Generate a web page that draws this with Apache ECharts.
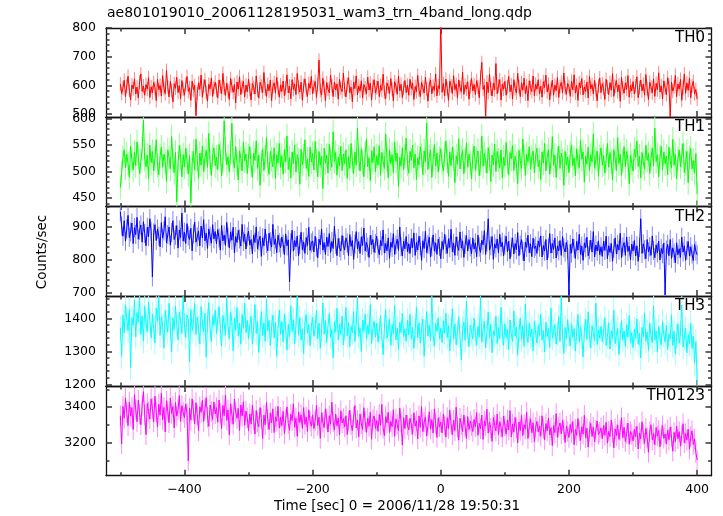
<!DOCTYPE html>
<html>
<head>
<meta charset="utf-8">
<script src="https://cdn.jsdelivr.net/npm/echarts@6.0.0/dist/echarts.min.js"></script>
<style>
html,body{margin:0;padding:0;background:#fff;}
#chart{width:723px;height:516px;}
</style>
</head>
<body>
<div id="chart"></div>
<script>
// ---- data ----
const titleText = 'ae801019010_20061128195031_wam3_trn_4band_long.qdp';
const xTitle = 'Time [sec] 0 = 2006/11/28 19:50:31';
const yTitle = 'Counts/sec';
const T0 = -500, STEP = 2;   // first bin time and bin width (s)
const panelNames = ['TH0', 'TH1', 'TH2', 'TH3', 'TH0123'];
const xTickLabels = [-400, -200, 0, 200, 400];
const xMinorTicks = [-500, -300, -100, 100, 300];
const yTickLabels = [[500, 600, 700, 800], [450, 500, 550, 600], [700, 800, 900], [1200, 1300, 1400], [3200, 3400]];
const errBar = [24, 23, 29, 37, 58];   // typical 1-sigma error per bin

const th0 = [
605,572,590,618,561,597,632,583,549,601,588,623,570,594,556,612,640,579,598,566,603,587,627,558,595,
574,610,592,547,621,585,600,563,634,589,571,652,596,560,614,582,543,606,590,628,575,599,554,617,587,
566,603,631,579,592,548,615,584,600,495,572,609,586,636,559,597,620,575,545,604,588,626,562,593,611,
583,557,619,596,571,642,590,565,608,580,551,624,599,576,603,539,612,587,630,568,595,614,560,601,578,
622,586,549,607,593,570,633,584,556,611,597,575,645,588,562,604,581,619,547,596,609,573,628,590,559,
602,579,615,564,591,637,574,598,553,620,586,605,568,642,594,577,611,548,599,623,583,562,607,590,631,
571,596,614,558,603,688,582,566,625,593,547,610,587,574,636,599,561,612,584,605,552,621,590,578,643,
586,560,604,627,575,594,543,611,589,633,567,598,580,616,556,603,591,571,629,584,608,549,597,620,573,
592,615,561,600,583,639,576,554,609,595,572,624,587,546,613,598,569,632,581,604,558,590,617,575,601,
566,621,589,608,551,596,578,635,584,561,610,593,574,628,587,545,602,619,571,597,583,640,563,599,588,
830,576,607,563,622,589,548,615,598,572,634,585,604,556,619,592,578,646,569,601,587,613,552,595,624,
581,603,568,617,594,557,629,680,586,600,492,612,575,639,590,563,608,584,676,571,598,620,549,605,587,
614,566,595,631,578,602,553,620,589,574,642,596,561,609,583,625,570,599,547,616,592,579,633,564,604,
587,620,571,598,559,613,593,636,577,604,550,589,618,566,601,582,627,558,596,611,574,643,590,569,607,
596,562,615,584,637,573,600,548,609,591,624,567,595,579,612,556,631,588,603,570,618,585,546,598,626,
575,606,589,551,621,594,568,610,583,641,562,597,617,578,602,545,628,591,573,609,586,634,559,600,581,
613,570,598,630,557,592,619,581,604,566,638,588,551,611,595,574,623,562,607,585,644,577,599,553,616,
590,568,627,601,490,612,580,596,635,561,605,587,621,548,593,640,572,609,583,626,557,598,614,571,586,
552];
const th1 = [
470,498,526,541,507,533,515,489,548,522,503,537,511,556,528,496,519,543,597,524,509,531,486,550,517,
538,501,525,560,512,494,529,546,508,533,519,482,541,526,505,566,521,498,536,443,514,549,527,490,532,
509,544,520,495,530,441,516,538,503,561,524,487,535,512,548,499,526,540,508,572,518,493,531,545,511,
527,504,551,534,492,519,596,542,513,528,499,536,591,522,507,547,515,484,539,525,501,556,520,533,496,
529,547,512,489,535,521,558,506,531,474,518,543,502,527,564,514,495,538,523,509,545,487,532,516,553,
508,530,495,541,519,567,504,526,488,537,515,550,499,532,521,476,542,513,529,560,506,523,491,546,518,
534,503,557,521,490,538,512,529,468,544,516,531,497,552,524,508,575,519,536,493,527,511,548,502,533,
515,541,487,528,506,553,520,496,537,512,582,525,501,543,518,490,534,561,509,526,483,539,517,547,500,
530,512,549,493,536,520,506,571,524,488,541,515,532,498,556,519,535,472,527,510,545,503,529,563,514,
497,538,521,550,507,533,485,526,512,547,530,494,539,518,592,504,528,541,489,522,551,510,535,499,525,
543,516,501,532,558,520,491,537,511,546,524,479,530,514,562,505,527,540,496,521,554,508,533,517,486,
529,548,503,523,539,492,516,567,510,534,520,497,545,526,481,531,513,552,500,538,522,507,541,488,527,
511,555,518,494,536,524,549,502,529,515,477,540,521,506,561,527,493,533,518,547,505,526,539,498,530,
544,509,522,485,537,516,553,501,528,541,495,519,566,512,531,489,525,548,506,535,520,474,538,513,527,
498,534,550,511,526,492,543,519,507,559,523,537,480,529,514,546,502,532,518,571,506,524,539,491,528,
545,512,530,497,523,553,508,536,519,484,541,526,502,564,515,533,493,520,547,509,538,522,477,531,516,
501,542,527,558,510,529,488,536,518,505,550,521,534,496,525,544,511,582,519,532,490,527,548,503,537,
515,529,494,546,520,507,561,512,533,486,524,541,509,530,553,498,517,538,479,526,544,505,521,497,534,
458];
const th2 = [
945,902,871,918,856,893,934,867,884,911,849,897,876,928,862,889,905,853,915,879,842,898,870,924,886,
748,881,906,858,893,871,839,912,865,887,930,851,876,899,844,882,918,861,874,903,835,890,867,941,856,
883,849,909,872,861,895,827,878,914,853,869,887,842,902,866,921,857,880,834,893,871,850,906,863,885,
848,891,866,829,904,857,875,843,913,868,836,884,859,898,821,870,852,889,863,841,907,855,878,832,869,
886,844,861,818,875,852,899,833,857,871,810,866,842,893,849,827,880,855,838,907,846,863,821,874,851,
836,869,847,815,878,842,860,733,851,889,826,858,839,872,811,846,883,830,854,819,867,843,898,828,850,
857,823,871,838,806,862,845,893,829,852,816,868,840,879,822,855,834,901,847,812,864,837,826,873,843,
829,866,851,812,876,840,858,801,847,885,833,855,819,869,843,896,826,852,838,807,874,845,861,822,849,
871,834,815,858,842,890,820,849,827,866,804,853,837,879,816,845,862,828,899,839,811,856,833,870,824,
848,819,864,836,881,813,852,829,871,842,798,857,834,886,821,846,868,808,839,875,826,851,816,862,840,
803,855,831,877,846,819,863,837,892,824,850,813,869,841,828,884,835,857,807,846,873,826,861,839,818,
866,832,851,809,874,838,822,859,845,888,816,853,924,829,842,870,801,848,835,862,820,877,839,853,811,
845,871,824,856,803,838,866,817,849,830,882,812,844,861,826,796,853,837,874,821,848,809,865,834,841,
819,857,838,872,808,843,826,861,799,835,879,820,849,831,866,805,842,827,858,813,870,836,823,852,830,
692,846,820,863,833,804,855,829,877,816,841,798,851,836,868,812,830,859,823,885,808,844,826,857,815,
839,810,856,828,871,803,842,822,849,795,834,866,817,846,829,880,806,838,852,813,869,825,841,800,847,
826,858,811,842,795,837,924,819,848,830,803,861,824,839,813,872,828,806,845,821,856,799,834,818,850,
693,829,846,812,861,804,836,820,790,851,815,833,807,868,823,842,798,828,855,811,839,817,797,846,826,
815];
const th3 = [
1372,1285,1410,1356,1441,1398,1363,1427,1251,1402,1379,1456,1344,1418,1389,1466,1352,1408,1331,1437,1384,1360,1449,1395,1341,
1413,1370,1326,1432,1391,1462,1349,1405,1377,1310,1424,1386,1358,1446,1372,1299,1401,1365,1438,1382,1335,1419,1390,1355,1466,
1380,1342,1411,1396,1268,1427,1363,1389,1445,1351,1404,1373,1322,1436,1385,1360,1416,1283,1392,1448,1367,1330,1408,1379,1425,
1354,1397,1436,1368,1316,1409,1383,1350,1462,1375,1338,1418,1391,1302,1401,1364,1433,1346,1386,1322,1412,1370,1447,1357,1394,
1339,1381,1406,1322,1374,1442,1355,1391,1297,1367,1420,1348,1386,1331,1457,1363,1394,1318,1376,1410,1341,1388,1285,1369,1425,
1352,1390,1329,1414,1371,1304,1382,1345,1438,1360,1396,1323,1377,1466,1349,1402,1334,1368,1293,1389,1412,1356,1381,1317,1374,
1403,1346,1371,1424,1338,1386,1309,1365,1447,1352,1394,1327,1378,1415,1343,1366,1281,1390,1359,1431,1335,1382,1351,1407,1320,
1368,1433,1347,1389,1314,1376,1356,1421,1330,1384,1461,1345,1372,1300,1395,1361,1413,1337,1380,1352,1442,1324,1369,1391,1343,
1386,1329,1361,1408,1348,1290,1374,1427,1340,1365,1397,1318,1382,1353,1440,1335,1371,1306,1389,1357,1416,1345,1368,1331,1394,
1350,1412,1337,1373,1309,1364,1435,1341,1387,1325,1369,1398,1285,1358,1421,1346,1379,1333,1466,1352,1316,1384,1361,1402,1339,
1371,1327,1393,1355,1416,1342,1378,1301,1362,1429,1338,1384,1320,1357,1405,1346,1274,1369,1389,1333,1452,1351,1315,1380,1360,
1337,1401,1352,1319,1376,1343,1466,1328,1365,1392,1311,1358,1419,1340,1383,1296,1361,1348,1407,1324,1372,1339,1434,1355,1318,
1384,1341,1367,1306,1395,1352,1330,1423,1346,1374,1289,1359,1401,1336,1378,1315,1444,1350,1327,1386,1343,1368,1302,1391,1357,
1325,1379,1348,1413,1334,1363,1298,1389,1345,1370,1312,1431,1340,1361,1381,1322,1354,1405,1330,1466,1347,1293,1372,1338,1396,
1351,1316,1384,1342,1369,1301,1358,1412,1329,1375,1344,1283,1363,1397,1336,1420,1348,1310,1378,1355,1333,1446,1321,1366,1340,
1376,1329,1358,1402,1318,1345,1387,1307,1361,1338,1425,1323,1352,1370,1291,1348,1393,1334,1362,1315,1381,1343,1409,1326,1357,
1311,1367,1339,1398,1322,1354,1280,1373,1344,1417,1331,1359,1303,1386,1347,1326,1438,1335,1362,1298,1375,1341,1320,1391,1350,
1328,1379,1306,1352,1337,1411,1318,1361,1292,1345,1384,1325,1356,1440,1313,1342,1370,1296,1351,1323,1386,1309,1347,1265,1330,
1212];
const th0123 = [
3352,3192,3405,3338,3452,3371,3296,3429,3350,3398,3274,3470,3386,3318,3440,3362,3301,3412,3488,3357,3245,3421,3376,3333,3447,
3392,3318,3462,3371,3289,3417,3355,3480,3330,3399,3261,3436,3378,3312,3452,3365,3404,3283,3427,3350,3386,3466,3320,3409,3372,
3341,3418,3365,3097,3395,3327,3447,3381,3306,3426,3358,3267,3403,3371,3439,3319,3388,3455,3344,3292,3413,3376,3331,3430,3362,
3398,3315,3441,3367,3280,3410,3352,3469,3326,3385,3243,3420,3361,3304,3446,3372,3337,3393,3268,3413,3350,3431,3298,3378,3340,
3268,3362,3305,3411,3327,3248,3381,3316,3290,3398,3338,3222,3355,3301,3427,3331,3274,3368,3312,3391,3257,3346,3320,3405,3282,
3343,3296,3377,3251,3329,3402,3308,3270,3361,3325,3419,3287,3339,3236,3372,3314,3357,3280,3398,3303,3345,3263,3385,3321,3292,
3357,3279,3324,3410,3297,3343,3224,3369,3315,3285,3391,3332,3260,3352,3304,3428,3318,3271,3361,3295,3340,3245,3380,3311,3336,
3289,3352,3246,3320,3384,3301,3268,3345,3409,3283,3327,3233,3361,3306,3274,3397,3318,3257,3338,3292,3372,3219,3329,3351,3280,
3325,3264,3359,3298,3416,3282,3240,3347,3311,3372,3257,3320,3290,3386,3236,3334,3303,3268,3395,3315,3186,3341,3279,3356,3300,
3271,3338,3302,3247,3369,3293,3323,3221,3351,3286,3404,3262,3316,3345,3238,3297,3374,3278,3330,3254,3391,3308,3229,3340,3289,
3316,3255,3362,3297,3231,3341,3279,3385,3306,3244,3327,3268,3400,3287,3214,3338,3301,3262,3356,3290,3223,3347,3274,3321,3296,
3262,3331,3289,3370,3241,3309,3278,3356,3218,3323,3295,3388,3254,3315,3281,3207,3342,3299,3266,3361,3245,3318,3286,3233,3350,
3295,3247,3328,3271,3381,3232,3306,3259,3342,3284,3199,3317,3268,3355,3240,3301,3276,3372,3223,3290,3334,3256,3312,3205,3287,
3320,3261,3294,3236,3352,3279,3216,3308,3267,3339,3243,3284,3183,3298,3256,3364,3230,3287,3311,3249,3326,3272,3201,3293,3262,
3229,3303,3257,3319,3188,3275,3241,3336,3266,3212,3290,3248,3354,3227,3281,3174,3263,3309,3235,3287,3204,3271,3322,3246,3259,
3283,3222,3296,3241,3315,3197,3264,3234,3327,3256,3170,3278,3239,3301,3218,3269,3341,3228,3287,3206,3252,3310,3191,3263,3245,
3210,3274,3233,3292,3164,3255,3221,3318,3247,3196,3280,3229,3145,3262,3301,3215,3251,3188,3286,3237,3269,3176,3243,3296,3224,
3249,3193,3271,3216,3288,3232,3151,3258,3206,3294,3222,3262,3180,3240,3307,3199,3251,3214,3276,3163,3234,3267,3189,3221,3143,
3102];
const seriesData = [th0, th1, th2, th3, th0123];

// ---- layout / style ----
const X_MIN = -522.4, X_MAX = 422.4;
const yRange = [[490, 800], [434, 603], [690, 961], [1195, 1468], [3013, 3520]];
const yMinorStep = [20, 10, 20, 20, 100];
const tops = [28, 117, 206.5, 296, 386];
const heights = [89, 89.5, 89.5, 90, 89.7];
const colors = ['#ff0000', '#00ff00', '#0000ff', '#00ffff', '#ff00ff'];
const lightColors = ['#ff8585', '#8cff8c', '#8585ff', '#9cffff', '#ff8cff'];
const FONT = 'DejaVu Sans';
const LEFT = 106, PLOT_W = 605.5;
const MAJOR_LEN = 6, MINOR_LEN = 3.5;
const tickStyle = { color: '#333', width: 1.5 };
const lineC = { color: '#111', width: 1.3 };

function stepVals(lo, hi, step) {
  const out = [];
  for (let v = Math.ceil(lo / step) * step; v <= hi; v += step) out.push(v);
  return out;
}
function fmtX(v) { return v < 0 ? '\u2212' + (-v) : String(v); }

const grids = [], xAxes = [], yAxes = [], series = [];

for (let p = 0; p < 5; p++) {
  grids.push({ left: LEFT, width: PLOT_W, top: tops[p], height: heights[p] });
  const yLo = yRange[p][0], yHi = yRange[p][1];
  const xb = xAxes.length;
  ['bottom', 'top'].forEach(function (pos) {
    // frame edge + major ticks (+ labels on the bottom panel)
    xAxes.push({
      type: 'value', gridIndex: p, min: X_MIN, max: X_MAX, position: pos,
      splitLine: { show: false },
      axisLine: { show: true, onZero: false, lineStyle: lineC },
      axisTick: { show: true, inside: true, length: MAJOR_LEN, customValues: xTickLabels, lineStyle: tickStyle },
      axisLabel: (pos === 'bottom' && p === 4) ? {
        show: true, customValues: xTickLabels, formatter: fmtX, color: '#000',
        fontFamily: FONT, fontSize: 12.5, margin: 8
      } : { show: false }
    });
    // minor ticks
    xAxes.push({
      type: 'value', gridIndex: p, min: X_MIN, max: X_MAX, position: pos,
      splitLine: { show: false },
      axisLine: { show: false, onZero: false },
      axisTick: { show: true, inside: true, length: MINOR_LEN, customValues: xMinorTicks, lineStyle: tickStyle },
      axisLabel: { show: false }
    });
  });
  const yb = yAxes.length;
  const minorY = stepVals(yLo, yHi, yMinorStep[p]).filter(function (v) { return yTickLabels[p].indexOf(v) < 0; });
  ['left', 'right'].forEach(function (pos) {
    yAxes.push({
      type: 'value', gridIndex: p, min: yLo, max: yHi, position: pos,
      splitLine: { show: false },
      axisLine: { show: true, onZero: false, lineStyle: lineC },
      axisTick: { show: true, inside: true, length: MAJOR_LEN, customValues: yTickLabels[p], lineStyle: tickStyle },
      axisLabel: pos === 'left' ? {
        show: true, customValues: yTickLabels[p], formatter: function (v) { return String(v); },
        color: '#000', fontFamily: FONT, fontSize: 12.5, margin: 10
      } : { show: false }
    });
    yAxes.push({
      type: 'value', gridIndex: p, min: yLo, max: yHi, position: pos,
      splitLine: { show: false },
      axisLine: { show: false, onZero: false },
      axisTick: { show: true, inside: true, length: MINOR_LEN, customValues: minorY, lineStyle: tickStyle },
      axisLabel: { show: false }
    });
  });

  const pts = seriesData[p].map(function (v, i) { return [T0 + STEP * i, v]; });
  // light error bars
  series.push({
    type: 'custom', xAxisIndex: xb, yAxisIndex: yb, data: pts, silent: true, z: 2, clip: true,
    renderItem: (function (err, col) {
      return function (params, api) {
        const x = api.value(0), v = api.value(1);
        const a = api.coord([x, v - err]), b = api.coord([x, v + err]);
        return { type: 'line', shape: { x1: a[0], y1: a[1], x2: b[0], y2: b[1] }, style: { stroke: col, lineWidth: 1 } };
      };
    })(errBar[p], lightColors[p])
  });
  series.push({
    type: 'line', xAxisIndex: xb, yAxisIndex: yb, data: pts, showSymbol: false, symbol: 'none',
    clip: true, silent: true, lineStyle: { color: colors[p], width: 1 }, z: 3
  });
}

const graphics = [
  { type: 'text', left: 107, top: 6, style: { text: titleText, fontFamily: FONT, fontSize: 14, fill: '#000' } },
  { type: 'text', x: 42, y: 252, rotation: Math.PI / 2, style: { text: yTitle, fontFamily: FONT, fontSize: 13.5, fill: '#000', align: 'center', verticalAlign: 'middle' } },
  { type: 'text', x: 397, y: 506, style: { text: xTitle, fontFamily: FONT, fontSize: 13.5, fill: '#000', align: 'center', verticalAlign: 'middle' } }
];
for (let p = 0; p < 5; p++) {
  graphics.push({ type: 'text', x: 705, y: tops[p] + 10.5, z: 10,
    style: { text: panelNames[p], fontFamily: FONT, fontSize: 15, fill: '#000', align: 'right', verticalAlign: 'middle' } });
}

const chart = echarts.init(document.getElementById('chart'), null, { renderer: 'canvas' });
chart.setOption({
  animation: false,
  backgroundColor: '#fff',
  grid: grids,
  xAxis: xAxes,
  yAxis: yAxes,
  series: series,
  graphic: graphics
});
</script>
</body>
</html>
